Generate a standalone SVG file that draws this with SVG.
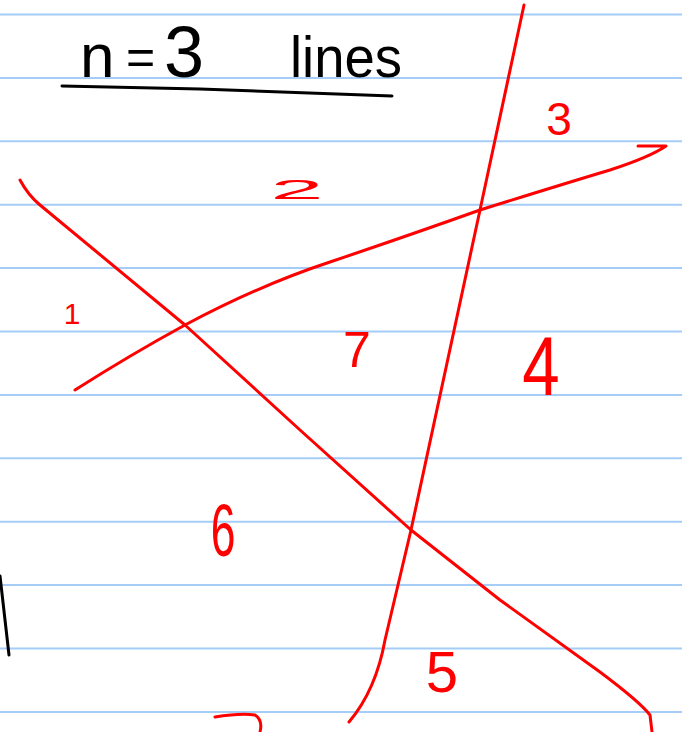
<svg xmlns="http://www.w3.org/2000/svg" width="682" height="732" viewBox="0 0 682 732">
<style>
.rule{stroke:#a6cdf7;stroke-width:2;fill:none}
.red{stroke:#ff0000;stroke-width:3;fill:none;stroke-linecap:round;stroke-linejoin:round}
.ink{stroke:#000;stroke-width:3;fill:none;stroke-linecap:round}
.lbl{font-family:"Liberation Sans","DejaVu Sans",sans-serif;fill:#ff0000;text-anchor:middle}
.ttl{font-family:"Liberation Sans","DejaVu Sans",sans-serif;fill:#000}
</style>
<rect width="682" height="732" fill="#fff"/>
<g id="paper">
<line class="rule" x1="0" y1="14.5" x2="682" y2="14.5"/>
<line class="rule" x1="0" y1="77.9" x2="682" y2="77.9"/>
<line class="rule" x1="0" y1="141.3" x2="682" y2="141.3"/>
<line class="rule" x1="0" y1="204.7" x2="682" y2="204.7"/>
<line class="rule" x1="0" y1="268.1" x2="682" y2="268.1"/>
<line class="rule" x1="0" y1="331.5" x2="682" y2="331.5"/>
<line class="rule" x1="0" y1="394.9" x2="682" y2="394.9"/>
<line class="rule" x1="0" y1="458.3" x2="682" y2="458.3"/>
<line class="rule" x1="0" y1="521.7" x2="682" y2="521.7"/>
<line class="rule" x1="0" y1="585.1" x2="682" y2="585.1"/>
<line class="rule" x1="0" y1="648.5" x2="682" y2="648.5"/>
<line class="rule" x1="0" y1="711.9" x2="682" y2="711.9"/>
</g>
<g id="title">
<text class="ttl" x="80" y="77" font-size="62">n</text>
<text class="ttl" x="126" y="74" font-size="50">=</text>
<text class="ttl" x="164" y="77" font-size="72">3</text>
<text class="ttl" x="290" y="77" font-size="58" textLength="112" lengthAdjust="spacingAndGlyphs">lines</text>
<path class="ink" d="M62 86 L200 89 L392 96"/>
</g>
<g id="lines">
<path class="red" d="M524 5 L480 210 L411 530 L385 640 Q376 690 349 722"/>
<path class="red" d="M75 390 Q130 355 185 325 Q260 285 330 262 Q410 235 480 210 Q560 185 610 170 Q650 157 666 146 L638 146"/>
<path class="red" d="M20 180 Q28 195 40 205 L185 325 L300 430 L411 530 L500 600 L600 672 Q640 702 650 715 L652 732"/>
<path class="red" d="M215 717 Q240 713 255 715 Q263 720 260 732"/>
</g>
<g id="labels">
<text class="lbl" x="559" y="135" font-size="46">3</text>
<text class="lbl" x="297" y="199" font-size="28" transform="translate(297 199) scale(3.4 1) translate(-297 -199)">2</text>
<text class="lbl" x="72" y="324" font-size="30">1</text>
<text class="lbl" x="357" y="367" font-size="50">7</text>
<text class="lbl" x="541" y="395" font-size="84" transform="translate(541 395) scale(0.8 1) translate(-541 -395)">4</text>
<text class="lbl" x="223" y="556" font-size="74" transform="translate(223 556) scale(0.6 1) translate(-223 -556)">6</text>
<text class="lbl" x="442" y="692" font-size="58">5</text>
</g>
<path class="ink" d="M0 576 L9 655"/>
</svg>
